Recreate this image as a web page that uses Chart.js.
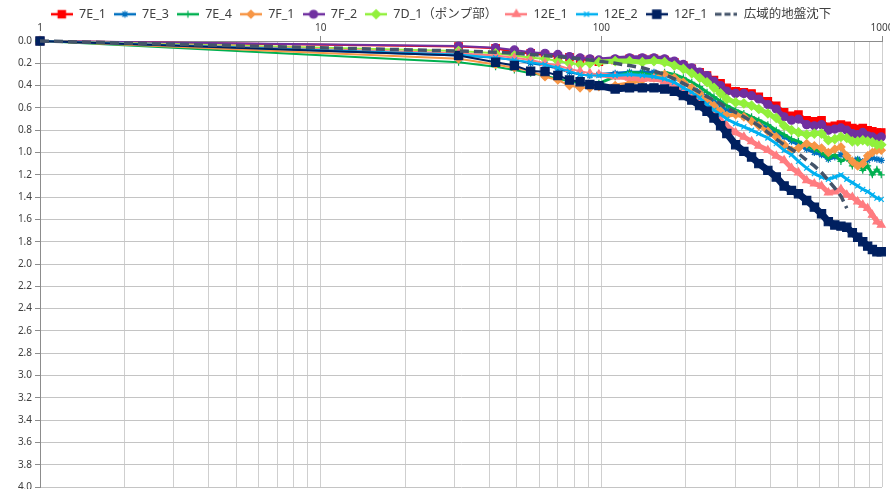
<!DOCTYPE html>
<html lang="ja">
<head>
<meta charset="utf-8">
<title>沈下量</title>
<script src="https://cdn.jsdelivr.net/npm/chart.js@4.4.1/dist/chart.umd.min.js"></script>
<style>
  html, body { margin: 0; padding: 0; background: #fff; overflow: hidden; }
  #wrap { width: 890px; height: 496px; }
</style>
</head>
<body>
<div id="wrap"><canvas id="chart" width="890" height="496"></canvas></div>
<script>
// elapsed days (x) and settlement values (m, downward)
const days = [1, 31, 42, 49, 56, 63, 70, 77, 84, 91, 98,
  112, 126, 140, 154, 168, 182, 196, 210, 224, 238, 252, 266, 280,
  301, 322, 343, 364,
  392, 420, 448, 476, 504,
  539, 574, 609, 644, 679, 714, 749, 784, 819, 854, 889, 924, 959, 994];

const s7E_1 = [0, 0.05, 0.065, 0.10, 0.11, 0.125, 0.14, 0.145, 0.165, 0.17, 0.185,
  0.17, 0.16, 0.16, 0.16, 0.17, 0.19, 0.22, 0.25, 0.28, 0.31, 0.35, 0.38, 0.42,
  0.45, 0.46, 0.47, 0.50,
  0.54, 0.58, 0.64, 0.67, 0.66,
  0.71, 0.72, 0.71, 0.77, 0.76, 0.75, 0.76, 0.78, 0.79, 0.78, 0.80, 0.81, 0.82, 0.82];
const s7E_3 = [0, 0.13, 0.15, 0.17, 0.20, 0.22, 0.25, 0.28, 0.30, 0.31, 0.30,
  0.29, 0.28, 0.28, 0.28, 0.30, 0.33, 0.37, 0.41, 0.45, 0.50, 0.54, 0.58, 0.62,
  0.65, 0.68, 0.71, 0.74,
  0.78, 0.82, 0.86, 0.90, 0.93,
  0.97, 1.00, 1.02, 1.06, 1.04, 1.02, 1.05, 1.07, 1.06, 1.08, 1.07, 1.05, 1.06, 1.07];
const s7E_4 = [0, 0.19, 0.23, 0.26, 0.29, 0.31, 0.34, 0.36, 0.38, 0.40, 0.38,
  0.32, 0.28, 0.29, 0.31, 0.28, 0.30, 0.33, 0.37, 0.41, 0.46, 0.50, 0.54, 0.58,
  0.62, 0.65, 0.68, 0.71,
  0.75, 0.80, 0.84, 0.88, 0.90,
  0.94, 0.97, 1.00, 1.05, 1.02, 1.08, 1.05, 1.12, 1.07, 1.16, 1.12, 1.20, 1.15, 1.20];
const s7F_1 = [0, 0.16, 0.21, 0.24, 0.27, 0.32, 0.35, 0.40, 0.42, 0.42, 0.41,
  0.40, 0.38, 0.35, 0.33, 0.30, 0.33, 0.37, 0.42, 0.47, 0.53, 0.58, 0.63, 0.67,
  0.66, 0.68, 0.72, 0.76,
  0.81, 0.86, 0.93, 0.98, 0.96,
  0.92, 0.94, 0.96, 1.00, 0.97, 0.95, 1.03, 1.08, 1.12, 1.10, 1.03, 1.00, 0.98, 0.98];
const s7F_2 = [0, 0.045, 0.06, 0.08, 0.10, 0.11, 0.12, 0.14, 0.15, 0.16, 0.17,
  0.16, 0.15, 0.15, 0.15, 0.16, 0.18, 0.21, 0.24, 0.28, 0.31, 0.36, 0.40, 0.45,
  0.47, 0.47, 0.49, 0.52,
  0.57, 0.61, 0.68, 0.71, 0.70,
  0.75, 0.76, 0.75, 0.80, 0.79, 0.78, 0.80, 0.83, 0.84, 0.82, 0.85, 0.86, 0.88, 0.86];
const s7D_1 = [0, 0.09, 0.11, 0.13, 0.15, 0.16, 0.18, 0.20, 0.21, 0.20, 0.19,
  0.18, 0.18, 0.19, 0.18, 0.19, 0.22, 0.25, 0.29, 0.33, 0.37, 0.42, 0.47, 0.52,
  0.55, 0.56, 0.58, 0.61,
  0.65, 0.69, 0.76, 0.80, 0.82,
  0.84, 0.83, 0.83, 0.89, 0.88, 0.86, 0.87, 0.90, 0.90, 0.89, 0.90, 0.91, 0.93, 0.93];
const s12E_1 = [0, 0.11, 0.13, 0.15, 0.17, 0.20, 0.22, 0.25, 0.27, 0.29, 0.30,
  0.32, 0.33, 0.34, 0.34, 0.36, 0.39, 0.44, 0.49, 0.54, 0.60, 0.66, 0.71, 0.76,
  0.82, 0.86, 0.90, 0.94,
  0.98, 1.03, 1.07, 1.14, 1.18,
  1.25, 1.28, 1.30, 1.36, 1.35, 1.33, 1.38, 1.40, 1.44, 1.47, 1.50, 1.56, 1.62, 1.65];
const s12E_2 = [0, 0.12, 0.15, 0.17, 0.19, 0.21, 0.24, 0.27, 0.30, 0.31, 0.31,
  0.31, 0.30, 0.31, 0.32, 0.34, 0.37, 0.42, 0.46, 0.51, 0.57, 0.62, 0.66, 0.70,
  0.74, 0.77, 0.80, 0.83,
  0.87, 0.92, 0.98, 1.02, 1.08,
  1.14, 1.19, 1.22, 1.24, 1.22, 1.20, 1.24, 1.27, 1.30, 1.33, 1.35, 1.38, 1.41, 1.42];
const s12F_1 = [0, 0.13, 0.19, 0.22, 0.27, 0.275, 0.31, 0.35, 0.365, 0.39, 0.40,
  0.43, 0.42, 0.42, 0.42, 0.43, 0.45, 0.49, 0.53, 0.58, 0.63, 0.69, 0.76, 0.83,
  0.93, 0.99, 1.04, 1.10,
  1.16, 1.22, 1.30, 1.34, 1.37,
  1.43, 1.49, 1.55, 1.62, 1.65, 1.66, 1.67, 1.72, 1.76, 1.80, 1.84, 1.87, 1.89, 1.89];
// regional subsidence, ends around day 750
const sRegional = [0, 0.09, 0.10, 0.11, 0.12, 0.13, 0.14, 0.15, 0.16, 0.17, 0.18,
  0.20, 0.22, 0.24, 0.27, 0.30, 0.34, 0.38, 0.42, 0.46, 0.50, 0.53, 0.56, 0.60,
  0.64, 0.68, 0.72, 0.76,
  0.82, 0.88, 0.93, 0.97, 1.01,
  1.07, 1.12, 1.18, 1.25, 1.32, 1.39, 1.50];

const xMajor = [1, 10, 100, 1000];
const yTicks = [0, 0.2, 0.4, 0.6, 0.8, 1.0, 1.2, 1.4, 1.6, 1.8, 2.0, 2.2, 2.4, 2.6, 2.8, 3.0, 3.2, 3.4, 3.6, 3.8, 4.0];

const fontFamily = "'Noto Sans', 'Noto Sans CJK JP', sans-serif";

function toPoints(vals) {
  return vals.map((v, i) => ({ x: days[i], y: v }));
}

const seriesDefs = [
  { label: '7E_1', data: s7E_1, color: '#ff0000', style: 'rect', r: 5.2, w: 4 },
  { label: '7E_3', data: s7E_3, color: '#0070c0', style: 'star', r: 3.5, w: 3 },
  { label: '7E_4', data: s7E_4, color: '#00b050', style: 'cross', r: 3.5, w: 3 },
  { label: '7F_1', data: s7F_1, color: '#f79646', style: 'rectRot', r: 4, w: 4 },
  { label: '7F_2', data: s7F_2, color: '#7030a0', style: 'circle', r: 4, w: 5 },
  { label: '7D_1（ポンプ部）', data: s7D_1, color: '#92f03c', style: 'rectRot', r: 4.5, w: 5 },
  { label: '12E_1', data: s12E_1, color: '#ff7c80', style: 'triangle', r: 4.5, w: 5 },
  { label: '12E_2', data: s12E_2, color: '#00b0f0', style: 'crossRot', r: 3.5, w: 3 },
  { label: '12F_1', data: s12F_1, color: '#002060', style: 'rect', r: 5.8, w: 7 },
  { label: '広域的地盤沈下', data: sRegional, color: '#44546a', style: false, r: 0, w: 3.5, dash: [9, 5] }
];

function makeIcon(def) {
  const c = document.createElement('canvas');
  c.width = 22;
  c.height = 12;
  const ctx = c.getContext('2d');
  ctx.strokeStyle = def.color;
  ctx.fillStyle = def.color;
  ctx.lineWidth = def.dash ? 3 : 2.5;
  if (def.dash) ctx.setLineDash([6, 3]);
  ctx.beginPath();
  ctx.moveTo(0, 6);
  ctx.lineTo(22, 6);
  ctx.stroke();
  ctx.setLineDash([]);
  if (def.style) {
    ctx.lineWidth = 1.2;
    Chart.helpers.drawPoint(ctx, { pointStyle: def.style, radius: def.r, rotation: 0, borderWidth: 1.2 }, 11, 6);
  }
  return c;
}

const icons = seriesDefs.map(makeIcon);
const n = seriesDefs.length;

const datasets = seriesDefs.map((d, i) => ({
  label: d.label,
  data: toPoints(d.data),
  borderColor: d.color,
  backgroundColor: d.color,
  borderWidth: d.dash ? d.w : 2,
  borderDash: d.dash || [],
  pointStyle: d.style,
  pointRadius: d.r,
  pointBorderWidth: 1.2,
  tension: 0,
  clip: false,
  order: n - i,
  // the dense daily readings after ~100 days show as a thick band
  segment: d.dash ? undefined : {
    borderWidth: ctx => ctx.p0.parsed.x >= 98 ? d.w : 2
  }
}));

const legendHeight = {
  id: 'legendHeight',
  beforeInit(chart) {
    const fit = chart.legend.fit;
    chart.legend.fit = function () {
      fit.bind(chart.legend)();
      this.height = 20;
    };
  }
};

new Chart(document.getElementById('chart'), {
  type: 'line',
  data: { datasets: datasets },
  plugins: [legendHeight],
  options: {
    responsive: false,
    animation: false,
    devicePixelRatio: 1,
    layout: { padding: { left: 0, right: 8, top: 0, bottom: 9 } },
    plugins: {
      tooltip: { enabled: false },
      legend: {
        position: 'top',
        labels: {
          usePointStyle: true,
          pointStyleWidth: 22,
          boxHeight: 12,
          padding: 8,
          color: '#404040',
          font: { family: fontFamily, size: 12.5 },
          sort: (a, b) => a.datasetIndex - b.datasetIndex,
          generateLabels(chart) {
            const items = Chart.defaults.plugins.legend.labels.generateLabels(chart);
            items.forEach(it => { it.pointStyle = icons[it.datasetIndex]; });
            return items;
          }
        }
      }
    },
    scales: {
      x: {
        type: 'logarithmic',
        position: 'top',
        min: 1,
        max: 1000,
        afterBuildTicks(scale) {
          const t = [];
          [1, 10, 100].forEach(base => {
            for (let k = 1; k < 10; k++) t.push({ value: base * k });
          });
          t.push({ value: 1000 });
          scale.ticks = t;
        },
        afterFit(scale) {
          scale.height = 21;
          scale.paddingLeft = 0;
          scale.paddingRight = 0;
        },
        ticks: {
          autoSkip: false,
          maxRotation: 0,
          padding: 2,
          color: '#404040',
          font: { family: fontFamily, size: 10 },
          callback: v => xMajor.includes(v) ? String(v) : ''
        },
        grid: {
          color: '#cfcfcf',
          tickLength: 5,
          tickColor: ctx => (ctx.tick && xMajor.includes(ctx.tick.value)) ? '#8c8c8c' : 'rgba(0,0,0,0)'
        },
        border: { color: '#8c8c8c', width: 1 }
      },
      y: {
        type: 'linear',
        reverse: true,
        min: 0,
        max: 4,
        afterBuildTicks(scale) {
          scale.ticks = yTicks.map(v => ({ value: v }));
        },
        afterFit(scale) {
          scale.width = 40;
          scale.paddingTop = 0;
          scale.paddingBottom = 0;
        },
        ticks: {
          padding: 3,
          color: '#404040',
          font: { family: fontFamily, size: 10 },
          callback: v => Number(v).toFixed(1)
        },
        grid: {
          color: '#c4c4c4',
          tickLength: 5,
          tickColor: '#8c8c8c'
        },
        border: { color: '#8c8c8c', width: 1 }
      }
    }
  }
});
</script>
</body>
</html>
